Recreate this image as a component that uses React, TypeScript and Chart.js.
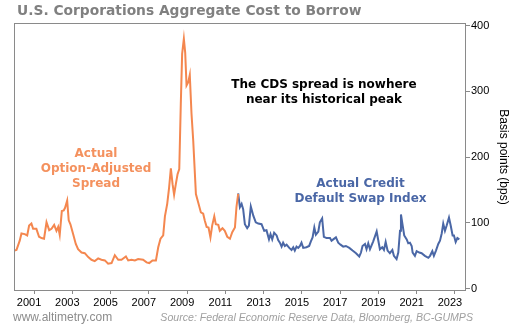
import { useEffect, useRef } from "react";
import { Chart, registerables } from "chart.js";

Chart.register(...registerables);

const oasYears = [
  1999.97, 2000.08, 2000.25, 2000.34, 2000.51, 2000.64, 2000.74, 2000.86, 2000.95, 2001.12,
  2001.26, 2001.39, 2001.52, 2001.65, 2001.79, 2001.91, 2002.05, 2002.17, 2002.26, 2002.34,
  2002.45, 2002.55, 2002.62, 2002.73, 2002.81, 2002.9, 2003.04, 2003.18, 2003.3, 2003.48,
  2003.65, 2003.83, 2004.0, 2004.17, 2004.35, 2004.52, 2004.7, 2004.87, 2005.05, 2005.22,
  2005.4, 2005.57, 2005.8, 2005.92, 2006.09, 2006.27, 2006.44, 2006.7, 2006.88, 2007.02,
  2007.19, 2007.37, 2007.49, 2007.61, 2007.75, 2007.84, 2007.96, 2008.06, 2008.15, 2008.24,
  2008.32, 2008.41, 2008.5, 2008.59, 2008.67, 2008.74, 2008.83, 2008.9, 2008.97, 2009.06,
  2009.14, 2009.23, 2009.32, 2009.46, 2009.58, 2009.72, 2009.84, 2009.93, 2010.02, 2010.12,
  2010.22, 2010.31, 2010.42, 2010.5, 2010.63, 2010.71, 2010.85, 2010.97, 2011.1, 2011.24,
  2011.36, 2011.5, 2011.58, 2011.67,
];
const oasValues = [
  58, 59, 73, 84, 83, 81, 96, 99, 91, 91,
  79, 77, 76, 101, 89, 91, 97, 88, 94, 82,
  118, 119, 123, 134, 104, 98, 83, 68, 60, 55,
  54, 48, 44, 42, 46, 44, 43, 38, 39, 51,
  44, 44, 49, 43, 44, 43, 45, 44, 40, 39,
  43, 43, 63, 76, 81, 110, 129, 154, 183, 159,
  143, 159, 174, 182, 281, 357, 380, 359, 309, 314,
  325, 266, 225, 144, 131, 116, 114, 103, 94, 93,
  78, 96, 110, 98, 97, 88, 92, 88, 79, 76,
  86, 93, 124, 144,
];

const cdsYears = [
  2011.67, 2011.76, 2011.85, 2011.93, 2012.02, 2012.14, 2012.23, 2012.33, 2012.46, 2012.59,
  2012.72, 2012.89, 2013.03, 2013.15, 2013.28, 2013.36, 2013.45, 2013.55, 2013.68, 2013.76,
  2013.85, 2013.94, 2014.02, 2014.11, 2014.2, 2014.34, 2014.46, 2014.55, 2014.63, 2014.72,
  2014.81, 2014.9, 2014.98, 2015.07, 2015.24, 2015.38, 2015.47, 2015.56, 2015.65, 2015.73,
  2015.86, 2015.94, 2016.06, 2016.15, 2016.29, 2016.47, 2016.55, 2016.64, 2016.78, 2016.9,
  2017.02, 2017.16, 2017.3, 2017.48, 2017.65, 2017.83, 2018.0, 2018.09, 2018.17, 2018.3,
  2018.38, 2018.47, 2018.56, 2018.73, 2018.91, 2018.99, 2019.08, 2019.2, 2019.29, 2019.38,
  2019.48, 2019.6, 2019.73, 2019.81, 2019.95, 2020.04, 2020.13, 2020.18, 2020.27, 2020.35,
  2020.48, 2020.56, 2020.65, 2020.74, 2020.79, 2020.91, 2021.0, 2021.14, 2021.26, 2021.43,
  2021.61, 2021.7, 2021.82, 2021.9, 2022.01, 2022.13, 2022.22, 2022.31, 2022.39, 2022.48,
  2022.57, 2022.69, 2022.78, 2022.88, 2022.95, 2023.04, 2023.13, 2023.23,
];
const cdsValues = [
  145, 124, 129, 121, 98, 92, 96, 125, 111, 101,
  99, 98, 88, 89, 75, 83, 75, 85, 81, 74,
  70, 64, 70, 65, 67, 62, 59, 63, 58, 64,
  62, 65, 70, 62, 63, 65, 72, 78, 93, 82,
  87, 101, 107, 79, 77, 77, 73, 75, 78, 70,
  67, 64, 65, 62, 58, 54, 49, 55, 65, 68,
  60, 69, 60, 72, 87, 74, 60, 63, 59, 71,
  58, 54, 59, 50, 45, 55, 88, 113, 96, 81,
  75, 69, 70, 65, 55, 50, 57, 55, 54, 50,
  47, 50, 57, 50, 58, 68, 73, 84, 99, 88,
  96, 108, 96, 81, 81, 71, 77, 75,
];

const yearTicks = [2001, 2003, 2005, 2007, 2009, 2011, 2013, 2015, 2017, 2019, 2021, 2023];
const valueTicks = [0, 100, 200, 300, 400];

const TITLE = "U.S. Corporations Aggregate Cost to Borrow";
const NOTE = ["The CDS spread is nowhere", "near its historical peak"];
const OAS_LABEL = ["Actual", "Option-Adjusted", "Spread"];
const CDS_LABEL = ["Actual Credit", "Default Swap Index"];
const Y_TITLE = "Basis points (bps)";
const SITE = "www.altimetry.com";
const SOURCE = "Source: Federal Economic Reserve Data, Bloomberg, BC-GUMPS";

const ORANGE = "#F4874F";
const ORANGE_TEXT = "#F4915E";
const BLUE = "#4A67A6";
const FRAME = "#8a8a8a";

export default function App() {
  const ref = useRef<HTMLCanvasElement>(null);

  useEffect(() => {
    if (!ref.current) return;
    const textPlugin = {
      id: "texts",
      afterDraw(chart: any) {
        const ctx = chart.ctx as CanvasRenderingContext2D;
        const a = chart.chartArea;
        ctx.save();
        ctx.strokeStyle = FRAME;
        ctx.lineWidth = 1;
        ctx.strokeRect(
          Math.round(a.left) + 0.5,
          Math.round(a.top) + 0.5,
          Math.round(a.right - a.left) - 1,
          Math.round(a.bottom - a.top) - 1
        );

        ctx.textBaseline = "alphabetic";
        ctx.textAlign = "left";
        ctx.fillStyle = "#808080";
        ctx.font = 'bold 13.8px "DejaVu Sans"';
        ctx.fillText(TITLE, 17, 15);

        ctx.textAlign = "center";
        ctx.fillStyle = "#000";
        ctx.font = 'bold 12px "DejaVu Sans"';
        ctx.fillText(NOTE[0], 324, 88);
        ctx.fillText(NOTE[1], 324, 103);

        ctx.fillStyle = ORANGE_TEXT;
        ctx.fillText(OAS_LABEL[0], 96, 157);
        ctx.fillText(OAS_LABEL[1], 96, 172);
        ctx.fillText(OAS_LABEL[2], 96, 186.5);

        ctx.fillStyle = BLUE;
        ctx.fillText(CDS_LABEL[0], 360.5, 186.7);
        ctx.fillText(CDS_LABEL[1], 360.5, 201.7);

        ctx.textAlign = "left";
        ctx.fillStyle = "#8c8c8c";
        ctx.font = '12px "Liberation Sans"';
        ctx.fillText(SITE, 13, 321);

        ctx.textAlign = "right";
        ctx.fillStyle = "#a0a0a0";
        ctx.font = 'italic 10.6px "Liberation Sans"';
        ctx.fillText(SOURCE, 473, 321);

        ctx.translate(503, 157);
        ctx.rotate(Math.PI / 2);
        ctx.textAlign = "center";
        ctx.textBaseline = "middle";
        ctx.fillStyle = "#000";
        ctx.font = '12px "Liberation Sans"';
        ctx.fillText(Y_TITLE, 0, 0);
        ctx.restore();
      },
    };

    const chart = new Chart(ref.current, {
      type: "line",
      data: {
        datasets: [
          {
            data: oasYears.map((x, i) => ({ x, y: oasValues[i] })),
            borderColor: ORANGE,
            borderWidth: 2,
            pointRadius: 0,
            tension: 0,
            fill: false,
          },
          {
            data: cdsYears.map((x, i) => ({ x, y: cdsValues[i] })),
            borderColor: BLUE,
            borderWidth: 2,
            pointRadius: 0,
            tension: 0,
            fill: false,
          },
        ],
      },
      options: {
        animation: false,
        responsive: false,
        layout: { padding: { top: 23, left: 14, right: 0, bottom: 0 } },
        plugins: { legend: { display: false }, tooltip: { enabled: false }, title: { display: false } },
        scales: {
          x: {
            type: "linear",
            min: 1999.95,
            max: 2023.58,
            afterBuildTicks: (s: any) => {
              s.ticks = yearTicks.map((v) => ({ value: v }));
            },
            afterFit: (s: any) => {
              s.height = 34;
            },
            border: { display: false },
            grid: { display: true, drawOnChartArea: false, drawTicks: true, tickLength: 3, color: FRAME },
            ticks: {
              autoSkip: false,
              maxRotation: 0,
              labelOffset: -5,
              padding: 2,
              color: "#000",
              font: { family: "Liberation Sans", size: 11 },
              callback: (v: any) => String(v),
            },
          },
          y: {
            position: "right",
            min: -3.5,
            max: 404,
            afterBuildTicks: (s: any) => {
              s.ticks = valueTicks.map((v) => ({ value: v }));
            },
            afterFit: (s: any) => {
              s.width = 44;
            },
            border: { display: false },
            grid: { display: true, drawOnChartArea: false, drawTicks: true, tickLength: 4, color: FRAME },
            ticks: {
              padding: 1,
              color: "#000",
              font: { family: "Liberation Sans", size: 11 },
              callback: (v: any) => String(v),
            },
          },
        },
      },
      plugins: [textPlugin],
    } as any);
    return () => chart.destroy();
  }, []);

  return (
    <div style={{ position: "fixed", left: 0, top: 0, width: 510, height: 325, background: "#fff" }}>
      <canvas ref={ref} width={510} height={325} style={{ display: "block" }} />
    </div>
  );
}
